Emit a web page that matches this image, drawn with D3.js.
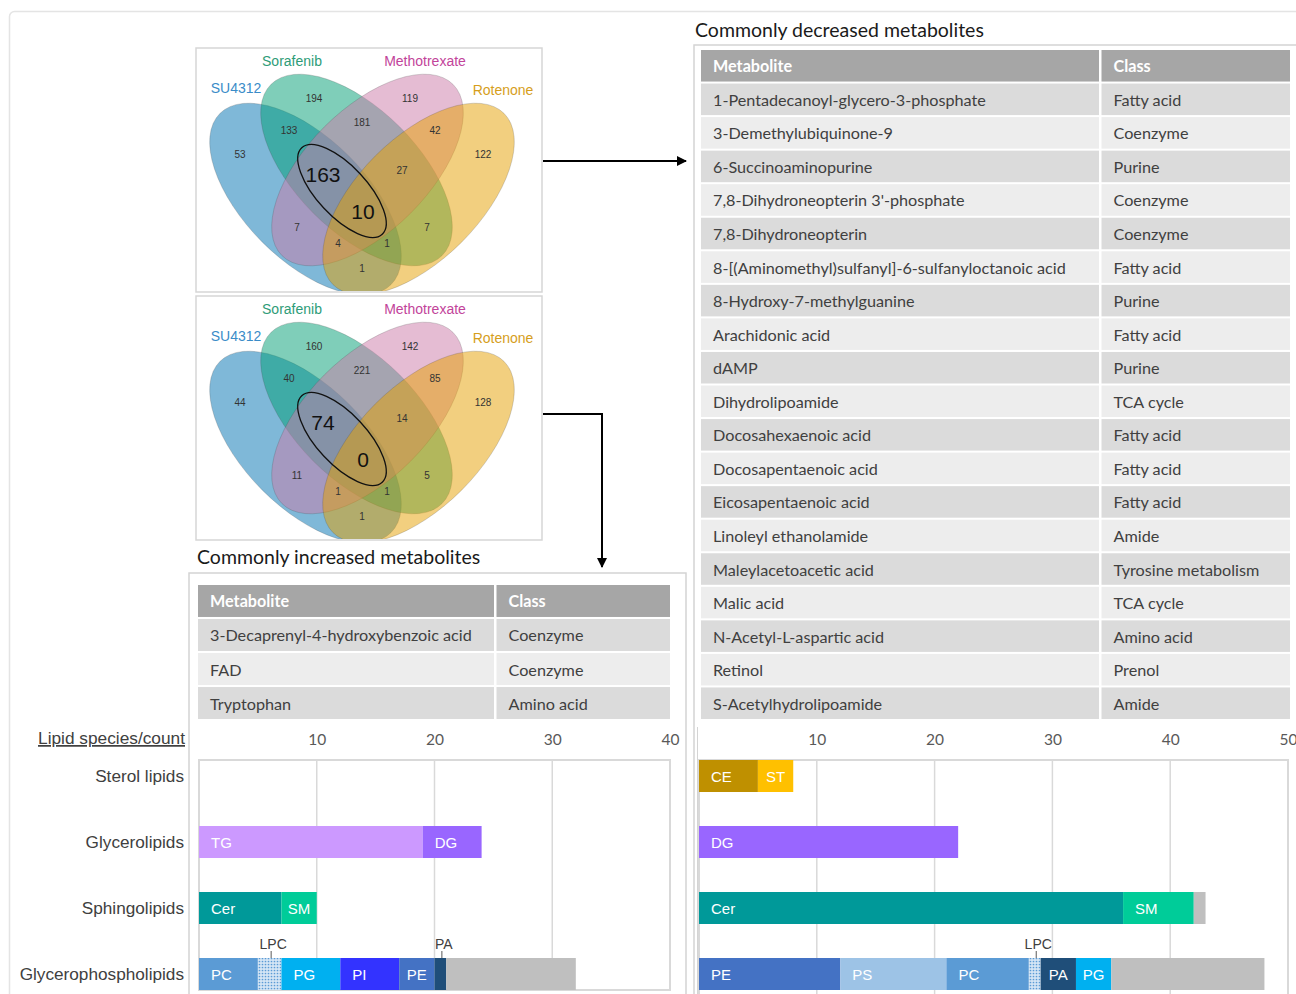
<!DOCTYPE html>
<html>
<head>
<meta charset="utf-8">
<script src="https://cdn.jsdelivr.net/npm/d3@7"></script>
<style>
  body { margin: 0; background: #fff; }
  svg { display: block; }
</style>
</head>
<body>
<svg id="fig" width="1296" height="994"></svg>
<script>
// ---------- data ----------
const vennSets = ["SU4312", "Sorafenib", "Methotrexate", "Rotenone"];
// region keys: which sets (1..4) the region belongs to
const vennRegions = ["1", "2", "3", "4", "12", "23", "34", "123", "234", "1234", "13", "24", "134", "124", "14"];
const decreasedCounts = [53, 194, 119, 122, 133, 181, 42, 163, 27, 10, 7, 7, 4, 1, 1];
const increasedCounts = [44, 160, 142, 128, 40, 221, 85, 74, 14, 0, 11, 5, 1, 1, 1];
const highlightedRegions = ["123", "1234"];

const decreasedMetabolites = [
  "1-Pentadecanoyl-glycero-3-phosphate", "3-Demethylubiquinone-9", "6-Succinoaminopurine",
  "7,8-Dihydroneopterin 3'-phosphate", "7,8-Dihydroneopterin",
  "8-[(Aminomethyl)sulfanyl]-6-sulfanyloctanoic acid", "8-Hydroxy-7-methylguanine",
  "Arachidonic acid", "dAMP", "Dihydrolipoamide", "Docosahexaenoic acid",
  "Docosapentaenoic acid", "Eicosapentaenoic acid", "Linoleyl ethanolamide",
  "Maleylacetoacetic acid", "Malic acid", "N-Acetyl-L-aspartic acid", "Retinol",
  "S-Acetylhydrolipoamide"];
const decreasedClasses = [
  "Fatty acid", "Coenzyme", "Purine", "Coenzyme", "Coenzyme", "Fatty acid", "Purine",
  "Fatty acid", "Purine", "TCA cycle", "Fatty acid", "Fatty acid", "Fatty acid", "Amide",
  "Tyrosine metabolism", "TCA cycle", "Amino acid", "Prenol", "Amide"];
const increasedMetabolites = ["3-Decaprenyl-4-hydroxybenzoic acid", "FAD", "Tryptophan"];
const increasedClasses = ["Coenzyme", "Coenzyme", "Amino acid"];

const lipidCategories = ["Sterol lipids", "Glycerolipids", "Sphingolipids", "Glycerophospholipids"];
const incLipidClasses = [[], ["TG", "DG"], ["Cer", "SM"], ["PC", "LPC", "PG", "PI", "PE", "PA", "Other"]];
const incLipidCounts  = [[], [19, 5], [7, 3], [5, 2, 5, 5, 3, 1, 11]];
const decLipidClasses = [["CE", "ST"], ["DG"], ["Cer", "SM", "Other"], ["PE", "PS", "PC", "LPC", "PA", "PG", "Other"]];
const decLipidCounts  = [[5, 3], [22], [36, 6, 1], [12, 9, 7, 1, 3, 3, 13]];
const incTicks = [10, 20, 30, 40];
const decTicks = [10, 20, 30, 40, 50];

// ---------- styles ----------
const vennColors = ["#0072B2", "#009E73", "#CC79A7", "#E69F00"];
const vennLabelColors = ["#3a8cc8", "#2e9c78", "#c2449a", "#d69e1c"];
const lipidColors = {
  TG: "#cc99ff", DG: "#9966ff", Cer: "#009999", SM: "#00cc99", PC: "#5b9bd5",
  LPC: "url(#dots)", PG: "#00b0f0", PI: "#3333ff", PE: "#4472c4", PA: "#1f4e79",
  PS: "#9dc3e6", CE: "#bf9000", ST: "#ffc000", Other: "#bfbfbf"
};
const sans = "'Liberation Sans', Arial, sans-serif";
const tableFont = "Lato, 'Open Sans', sans-serif";

const svg = d3.select("#fig");
const defs = svg.append("defs");

// dotted fill for lysophosphatidylcholine
const pat = defs.append("pattern").attr("id", "dots")
  .attr("width", 3).attr("height", 3).attr("patternUnits", "userSpaceOnUse");
pat.append("rect").attr("width", 3).attr("height", 3).attr("fill", "#d4e5f5");
pat.append("circle").attr("cx", 1.5).attr("cy", 1.5).attr("r", 0.85).attr("fill", "#5b9bd5");

const arrow = defs.append("marker").attr("id", "arrow")
  .attr("viewBox", "0 0 10 10").attr("refX", 9).attr("refY", 5)
  .attr("markerWidth", 5).attr("markerHeight", 5).attr("orient", "auto-start-reverse");
arrow.append("path").attr("d", "M0,0 L10,5 L0,10 z").attr("fill", "#000");

// outer frame of the figure
svg.append("rect").attr("x", 9.5).attr("y", 11.5).attr("width", 1320).attr("height", 1020)
  .attr("rx", 5).attr("fill", "none").attr("stroke", "#e4e4e4").attr("stroke-width", 1.5);

// ---------- Venn diagrams ----------
const vennW = 346, vennH = 244;
// ellipse layout inside a panel (panel-local pixels)
const vennShapes = [
  { cx: 109.5, cy: 151, rot: 45 },
  { cx: 160.5, cy: 122, rot: 45 },
  { cx: 171.5, cy: 122, rot: -45 },
  { cx: 222.5, cy: 151, rot: -45 }
];
const vennRx = 121, vennRy = 61;
const regionPos = {
  "1": [44, 106], "2": [118, 50], "3": [214, 50], "4": [287, 106],
  "12": [93, 82], "23": [166, 74], "34": [239, 82],
  "123": [127, 126], "234": [206, 122], "1234": [167, 163],
  "13": [101, 179], "24": [231, 179], "134": [142, 195], "124": [191, 195], "14": [166, 220]
};
const setLabelPos = [[40, 40], [96, 13], [229, 13], [307, 42]];

function drawVenn(left, top, counts, id) {
  const g = svg.append("g").attr("transform", `translate(${left},${top})`);
  g.append("rect").attr("width", vennW).attr("height", vennH)
    .attr("fill", "#fff").attr("stroke", "#d6d6d6").attr("stroke-width", 1.5);
  defs.append("clipPath").attr("id", id).append("rect")
    .attr("x", 1).attr("y", 1).attr("width", vennW - 2).attr("height", vennH - 2);
  const eg = g.append("g").attr("clip-path", `url(#${id})`);
  eg.selectAll("ellipse").data(vennShapes).join("ellipse")
    .attr("transform", d => `translate(${d.cx},${d.cy}) rotate(${d.rot})`)
    .attr("rx", vennRx).attr("ry", vennRy)
    .attr("fill", (d, i) => vennColors[i]).attr("fill-opacity", 0.5)
    .attr("stroke", "#444").attr("stroke-opacity", 0.25).attr("stroke-width", 0.8);

  // ring around the regions shared by SU4312, Sorafenib and Methotrexate
  g.append("ellipse")
    .attr("transform", "translate(146,143) rotate(47)")
    .attr("rx", 59).attr("ry", 25)
    .attr("fill", "none").attr("stroke", "#111").attr("stroke-width", 1.3);

  g.selectAll("text.count").data(vennRegions).join("text")
    .attr("class", "count")
    .attr("x", d => regionPos[d][0]).attr("y", d => regionPos[d][1])
    .attr("text-anchor", "middle").attr("dominant-baseline", "central")
    .attr("font-family", sans)
    .attr("font-size", d => highlightedRegions.includes(d) ? 21 : 10)
    .attr("fill", d => highlightedRegions.includes(d) ? "#111" : "#333")
    .text((d, i) => counts[i]);

  g.selectAll("text.set").data(vennSets).join("text")
    .attr("class", "set")
    .attr("x", (d, i) => setLabelPos[i][0]).attr("y", (d, i) => setLabelPos[i][1])
    .attr("text-anchor", "middle").attr("dominant-baseline", "central")
    .attr("font-family", sans).attr("font-size", 14)
    .attr("fill", (d, i) => vennLabelColors[i])
    .text(d => d);
}
drawVenn(196, 48, decreasedCounts, "vclipTop");
drawVenn(196, 296, increasedCounts, "vclipBottom");

// arrows from the Venn panels to the tables
svg.append("path").attr("d", "M543,161 H686")
  .attr("fill", "none").attr("stroke", "#000").attr("stroke-width", 2).attr("marker-end", "url(#arrow)");
svg.append("path").attr("d", "M543,414 H602 V567")
  .attr("fill", "none").attr("stroke", "#000").attr("stroke-width", 2).attr("marker-end", "url(#arrow)");

// ---------- tables ----------
function drawTable(opts) {
  const { x0, split, x1, y0, y1, names, classes, title, titleX, titleY } = opts;
  svg.append("text").attr("x", titleX).attr("y", titleY)
    .attr("font-family", tableFont).attr("font-size", 19.5).attr("fill", "#1a1a1a")
    .text(title);
  const rowsIdx = d3.range(names.length + 1);
  const y = d3.scaleBand().domain(rowsIdx).range([y0, y1]).paddingInner(0.06);
  const cols = [[x0, split - 1], [split + 1.5, x1]];
  const g = svg.append("g");
  rowsIdx.forEach(r => {
    const fill = r === 0 ? "#a6a6a6" : (r % 2 === 1 ? "#dbdbdb" : "#ededed");
    cols.forEach(c => {
      g.append("rect").attr("x", c[0]).attr("y", y(r))
        .attr("width", c[1] - c[0]).attr("height", y.bandwidth()).attr("fill", fill);
    });
    const yc = y(r) + y.bandwidth() / 2;
    const texts = r === 0 ? ["Metabolite", "Class"] : [names[r - 1], classes[r - 1]];
    texts.forEach((t, k) => {
      g.append("text").attr("x", cols[k][0] + 12).attr("y", yc)
        .attr("dominant-baseline", "central")
        .attr("font-family", tableFont).attr("font-size", 16.2)
        .attr("font-weight", r === 0 ? 700 : 400)
        .attr("fill", r === 0 ? "#fff" : "#404040")
        .text(t);
    });
  });
}

// frames around the tables
svg.append("path").attr("d", "M694,1000 V45 H1300")
  .attr("fill", "none").attr("stroke", "#d4d4d4").attr("stroke-width", 1.5);
svg.append("path").attr("d", "M189,1000 V573 H686 V1000")
  .attr("fill", "none").attr("stroke", "#d4d4d4").attr("stroke-width", 1.5);
svg.append("path").attr("d", "M697.5,727 V1000")
  .attr("fill", "none").attr("stroke", "#d4d4d4").attr("stroke-width", 1);

drawTable({ x0: 701, split: 1100, x1: 1290, y0: 50, y1: 719,
  names: decreasedMetabolites, classes: decreasedClasses,
  title: "Commonly decreased metabolites", titleX: 695, titleY: 37 });
drawTable({ x0: 198, split: 495, x1: 670, y0: 585, y1: 719,
  names: increasedMetabolites, classes: increasedClasses,
  title: "Commonly increased metabolites", titleX: 197, titleY: 564 });

// ---------- lipid bar charts ----------
const yRow = d3.scalePoint().domain(lipidCategories).range([776, 974]);
const barH = 32;
const frameTop = 760, frameBottom = 990;

svg.append("text").attr("x", 185).attr("y", 744)
  .attr("text-anchor", "end").attr("font-family", sans).attr("font-size", 17.3)
  .attr("fill", "#404040").attr("text-decoration", "underline")
  .text("Lipid species/count");
svg.selectAll("text.cat").data(lipidCategories).join("text")
  .attr("class", "cat")
  .attr("x", 184).attr("y", d => yRow(d))
  .attr("text-anchor", "end").attr("dominant-baseline", "central")
  .attr("font-family", sans).attr("font-size", 17.2).attr("fill", "#404040")
  .text(d => d);

function drawLipidChart(x, ticks, classes, counts, bottom) {
  const [r0, r1] = x.range();
  const g = svg.append("g");
  g.append("rect").attr("x", r0).attr("y", frameTop)
    .attr("width", r1 - r0).attr("height", bottom - frameTop)
    .attr("fill", "#fff").attr("stroke", "#d9d9d9").attr("stroke-width", 2);
  // grid lines
  g.selectAll("line.grid").data(ticks.filter(t => t < x.domain()[1])).join("line")
    .attr("class", "grid")
    .attr("x1", d => x(d)).attr("x2", d => x(d))
    .attr("y1", frameTop).attr("y2", bottom)
    .attr("stroke", "#d9d9d9").attr("stroke-width", 1.5);
  // tick labels
  const axis = d3.axisTop(x).tickValues(ticks).tickSize(0).tickPadding(0);
  const ag = g.append("g").attr("transform", "translate(0,745)").call(axis);
  ag.select(".domain").remove();
  ag.selectAll("text").attr("font-family", tableFont).attr("font-size", 15.5).attr("fill", "#595959");

  lipidCategories.forEach((cat, ci) => {
    const cls = classes[ci], vals = counts[ci];
    const cum = d3.cumsum(vals);
    const segs = cls.map((c, k) => ({ c, x0: cum[k] - vals[k], x1: cum[k] }));
    const yc = yRow(cat);
    segs.forEach(s => {
      const px0 = x(s.x0), px1 = x(s.x1), w = px1 - px0;
      g.append("rect").attr("x", px0).attr("y", yc - barH / 2)
        .attr("width", w).attr("height", barH).attr("fill", lipidColors[s.c]);
      if (s.c === "Other") return;
      if (s.c === "LPC" || w < 20) {
        const mx = (px0 + px1) / 2 + 1.5;
        g.append("line").attr("x1", mx).attr("x2", mx)
          .attr("y1", yc - barH / 2 - 7).attr("y2", yc - barH / 2)
          .attr("stroke", "#595959").attr("stroke-width", 1);
        g.append("text").attr("x", mx + 2).attr("y", yc - barH / 2 - 14)
          .attr("text-anchor", "middle").attr("dominant-baseline", "central")
          .attr("font-family", sans).attr("font-size", 14).attr("fill", "#404040")
          .text(s.c);
      } else {
        const centered = w < 45;
        g.append("text")
          .attr("x", centered ? (px0 + px1) / 2 : px0 + 12)
          .attr("y", yc)
          .attr("text-anchor", centered ? "middle" : "start")
          .attr("dominant-baseline", "central")
          .attr("font-family", sans).attr("font-size", 15).attr("fill", "#fff")
          .text(s.c);
      }
    });
  });
}

const xInc = d3.scaleLinear().domain([0, 40]).range([199, 670]);
const xDec = d3.scaleLinear().domain([0, 50]).range([699, 1288]);
drawLipidChart(xInc, incTicks, incLipidClasses, incLipidCounts, frameBottom);
drawLipidChart(xDec, decTicks, decLipidClasses, decLipidCounts, 1000);
</script>
</body>
</html>
